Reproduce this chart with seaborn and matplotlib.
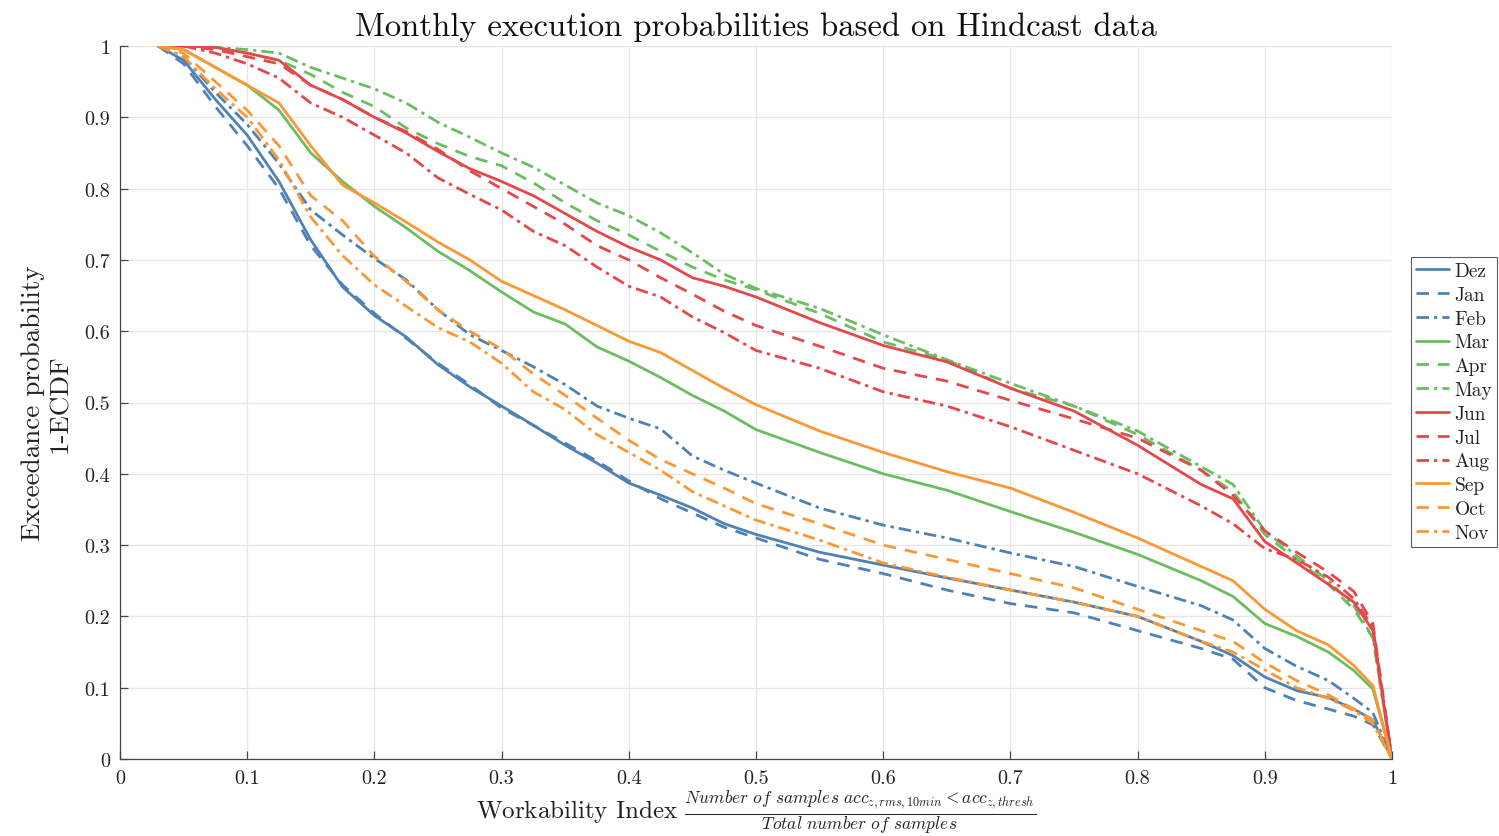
import numpy as np
import pandas as pd
import matplotlib
matplotlib.use("Agg")
import matplotlib.pyplot as plt
import seaborn as sns

# ---------------- data ----------------
months = ["Dez", "Jan", "Feb", "Mar", "Apr", "May", "Jun", "Jul", "Aug", "Sep", "Oct", "Nov"]

x_grid = [0.03, 0.05, 0.075, 0.1, 0.125, 0.15, 0.175, 0.2, 0.225, 0.25, 0.275, 0.3,
          0.325, 0.35, 0.375, 0.4, 0.425, 0.45, 0.475, 0.5, 0.55, 0.6, 0.65, 0.7,
          0.75, 0.8, 0.85, 0.875, 0.9, 0.925, 0.95, 0.97, 0.985, 1.0]

dez = [1.0, 0.98, 0.925, 0.875, 0.81, 0.728, 0.662, 0.622, 0.592, 0.553, 0.522, 0.495,
       0.468, 0.44, 0.415, 0.387, 0.37, 0.352, 0.33, 0.315, 0.29, 0.272, 0.254, 0.237,
       0.22, 0.2, 0.165, 0.145, 0.115, 0.096, 0.086, 0.07, 0.055, 0.0]
jan = [1.0, 0.975, 0.915, 0.86, 0.8, 0.72, 0.665, 0.625, 0.59, 0.555, 0.525, 0.492,
       0.468, 0.443, 0.418, 0.39, 0.365, 0.345, 0.325, 0.31, 0.28, 0.26, 0.237, 0.218,
       0.205, 0.18, 0.155, 0.14, 0.1, 0.082, 0.07, 0.06, 0.048, 0.0]
feb = [1.0, 0.985, 0.935, 0.89, 0.835, 0.77, 0.735, 0.702, 0.672, 0.63, 0.595, 0.573,
       0.55, 0.525, 0.495, 0.478, 0.463, 0.425, 0.405, 0.387, 0.352, 0.328, 0.31, 0.289,
       0.27, 0.242, 0.215, 0.195, 0.155, 0.13, 0.11, 0.085, 0.065, 0.0]
mar = [1.0, 0.995, 0.97, 0.945, 0.91, 0.85, 0.81, 0.775, 0.745, 0.712, 0.685, 0.655,
       0.627, 0.61, 0.578, 0.558, 0.535, 0.51, 0.488, 0.462, 0.43, 0.4, 0.377, 0.347,
       0.318, 0.287, 0.25, 0.228, 0.19, 0.172, 0.15, 0.124, 0.098, 0.0]
apr = [1.0, 1.0, 0.998, 0.99, 0.98, 0.96, 0.935, 0.915, 0.885, 0.863, 0.845, 0.832,
       0.808, 0.78, 0.755, 0.735, 0.712, 0.69, 0.672, 0.658, 0.625, 0.585, 0.56, 0.52,
       0.495, 0.455, 0.405, 0.375, 0.315, 0.28, 0.245, 0.21, 0.17, 0.0]
may = [1.0, 1.0, 0.998, 0.995, 0.99, 0.97, 0.955, 0.94, 0.92, 0.893, 0.872, 0.85,
       0.83, 0.805, 0.78, 0.762, 0.738, 0.71, 0.68, 0.66, 0.632, 0.595, 0.56, 0.527,
       0.495, 0.46, 0.41, 0.385, 0.32, 0.285, 0.25, 0.215, 0.17, 0.0]
jun = [1.0, 1.0, 0.998, 0.99, 0.98, 0.945, 0.925, 0.9, 0.878, 0.852, 0.828, 0.81,
       0.79, 0.765, 0.74, 0.718, 0.7, 0.675, 0.663, 0.648, 0.612, 0.58, 0.557, 0.52,
       0.488, 0.44, 0.385, 0.365, 0.305, 0.275, 0.245, 0.22, 0.18, 0.0]
jul = [1.0, 1.0, 0.995, 0.985, 0.975, 0.945, 0.925, 0.9, 0.88, 0.855, 0.825, 0.8,
       0.775, 0.75, 0.72, 0.7, 0.675, 0.652, 0.628, 0.608, 0.579, 0.548, 0.53, 0.503,
       0.477, 0.45, 0.405, 0.37, 0.32, 0.29, 0.262, 0.235, 0.19, 0.0]
aug = [1.0, 1.0, 0.99, 0.975, 0.955, 0.92, 0.9, 0.875, 0.85, 0.815, 0.792, 0.77,
       0.74, 0.72, 0.69, 0.663, 0.648, 0.62, 0.598, 0.573, 0.548, 0.515, 0.495, 0.466,
       0.433, 0.4, 0.355, 0.33, 0.295, 0.28, 0.255, 0.225, 0.185, 0.0]
sep = [1.0, 0.995, 0.97, 0.945, 0.92, 0.86, 0.805, 0.78, 0.753, 0.725, 0.7, 0.67,
       0.65, 0.63, 0.608, 0.586, 0.57, 0.545, 0.52, 0.497, 0.46, 0.43, 0.403, 0.38,
       0.346, 0.31, 0.27, 0.25, 0.21, 0.18, 0.16, 0.131, 0.103, 0.0]
oct_ = [1.0, 0.99, 0.95, 0.91, 0.86, 0.79, 0.755, 0.705, 0.67, 0.63, 0.6, 0.575,
        0.54, 0.51, 0.478, 0.447, 0.42, 0.4, 0.38, 0.358, 0.33, 0.3, 0.28, 0.26,
        0.24, 0.21, 0.18, 0.165, 0.135, 0.11, 0.09, 0.07, 0.055, 0.0]
nov = [1.0, 0.985, 0.94, 0.9, 0.84, 0.76, 0.706, 0.665, 0.635, 0.605, 0.585, 0.555,
       0.515, 0.49, 0.455, 0.43, 0.405, 0.375, 0.355, 0.335, 0.307, 0.275, 0.255, 0.237,
       0.22, 0.2, 0.165, 0.15, 0.125, 0.1, 0.085, 0.068, 0.05, 0.0]

series = [dez, jan, feb, mar, apr, may, jun, jul, aug, sep, oct_, nov]

tick_vals = [0, 0.1, 0.2, 0.3, 0.4, 0.5, 0.6, 0.7, 0.8, 0.9, 1]
tick_labels = ["0", "0.1", "0.2", "0.3", "0.4", "0.5", "0.6", "0.7", "0.8", "0.9", "1"]

# ---------------- styles ----------------
c_blue, c_green, c_red, c_orange = "#4f82b4", "#6cbd62", "#e4484b", "#fb9836"
colors = {m: c for m, c in zip(months, [c_blue] * 3 + [c_green] * 3 + [c_red] * 3 + [c_orange] * 3)}
dash_solid, dash_dash, dash_dot = "", (4.5, 3.2), (4.5, 1.8, 1.2, 1.8)
dashes = {m: d for m, d in zip(months, [dash_solid, dash_dash, dash_dot] * 4)}

rows = []
for m, ys in zip(months, series):
    for xv, yv in zip(x_grid, ys):
        rows.append((m, xv, yv))
df = pd.DataFrame(rows, columns=["Month", "x", "y"])

sns.set_theme(style="white")
plt.rcParams["font.family"] = ["cmr10", "DejaVu Serif"]
plt.rcParams["mathtext.fontset"] = "cm"
plt.rcParams["axes.formatter.use_mathtext"] = True
plt.rcParams["axes.unicode_minus"] = False

fig = plt.figure(figsize=(14.99, 8.37), dpi=100)
ax = fig.add_axes([120 / 1499, 1 - 760 / 837, (1392 - 120) / 1499, (760 - 47) / 837])

sns.lineplot(data=df, x="x", y="y", hue="Month", style="Month", hue_order=months,
             style_order=months, palette=colors, dashes=dashes, sort=False,
             estimator=None, linewidth=2.0, ax=ax, legend=True)

ax.set_xlim(0, 1)
ax.set_ylim(0, 1)
ax.set_xticks(tick_vals)
ax.set_xticklabels(tick_labels)
ax.set_yticks(tick_vals)
ax.set_yticklabels(tick_labels)
ax.grid(True, color="#e6e6e6", linewidth=0.9)
ax.set_axisbelow(True)
for s in ["top", "right"]:
    ax.spines[s].set_visible(False)
for s in ["left", "bottom"]:
    ax.spines[s].set_color("#444444")
    ax.spines[s].set_linewidth(0.9)
ax.tick_params(axis="both", direction="in", length=6, width=0.9, color="#444444",
               labelsize=14.5, labelcolor="#222222", pad=7, bottom=True, left=True)

ax.set_title("Monthly execution probabilities based on Hindcast data", fontsize=23.5,
             color="#111111", pad=8)
ax.set_xlabel(r"Workability Index $\frac{\mathit{Number\ of\ samples\ acc_{z,rms,10min}} < \mathit{acc_{z,thresh}}}{\mathit{Total\ number\ of\ samples}}$",
              fontsize=18, color="#222222")
ax.xaxis.set_label_coords(0.5, -0.0745, transform=ax.transAxes)
ax.xaxis.label.set_va("center")
ax.set_ylabel("Exceedance probability\n1-ECDF", fontsize=19.5, color="#222222",
              linespacing=1.15, labelpad=9)

handles, labels = ax.get_legend_handles_labels()
leg = ax.legend(handles, labels, loc="center right",
                bbox_to_anchor=(1497 / 1499, 1 - 403 / 837),
                bbox_transform=fig.transFigure, fontsize=14, frameon=True,
                fancybox=False, edgecolor="#333333", handlelength=1.7,
                handletextpad=0.3, labelspacing=0.3, borderpad=0.25,
                borderaxespad=0)
leg.get_frame().set_linewidth(0.8)
for t in leg.get_texts():
    t.set_color("#222222")

fig.savefig("out.png", dpi=100)
